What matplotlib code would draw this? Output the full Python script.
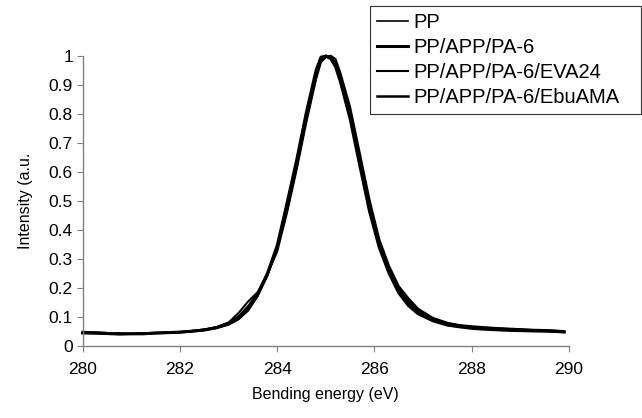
import matplotlib
matplotlib.use("Agg")
import matplotlib.pyplot as plt

plt.rcParams['font.family'] = ['Liberation Sans', 'DejaVu Sans']

energy = [280.0, 280.25, 280.5, 280.75, 281.0, 281.25, 281.5, 281.75, 282.0, 282.25,
          282.5, 282.75, 283.0, 283.2, 283.4, 283.6, 283.8, 284.0, 284.2, 284.4,
          284.6, 284.8, 284.9, 285.0, 285.1, 285.2, 285.3, 285.5, 285.7, 285.9,
          286.1, 286.3, 286.5, 286.7, 286.9, 287.2, 287.5, 287.75, 288.0, 288.25,
          288.5, 288.75, 289.0, 289.25, 289.5, 289.75, 289.9]

pp = [0.046, 0.044, 0.043, 0.041, 0.040, 0.042, 0.043, 0.044, 0.046, 0.049,
      0.053, 0.060, 0.072, 0.090, 0.120, 0.170, 0.240, 0.335, 0.475, 0.625,
      0.790, 0.935, 0.985, 1.000, 0.998, 0.975, 0.925, 0.800, 0.640, 0.480,
      0.350, 0.260, 0.190, 0.145, 0.118, 0.090, 0.074, 0.068, 0.063, 0.060,
      0.058, 0.056, 0.055, 0.053, 0.052, 0.050, 0.048]

pp_app_pa6 = [0.044, 0.043, 0.042, 0.040, 0.041, 0.041, 0.044, 0.045, 0.047, 0.050,
              0.054, 0.062, 0.075, 0.093, 0.125, 0.178, 0.250, 0.345, 0.490, 0.640,
              0.805, 0.950, 0.995, 0.998, 0.990, 0.962, 0.910, 0.782, 0.620, 0.462,
              0.338, 0.250, 0.182, 0.138, 0.110, 0.086, 0.071, 0.065, 0.060, 0.057,
              0.055, 0.053, 0.052, 0.051, 0.050, 0.049, 0.047]

pp_eva24 = [0.048, 0.046, 0.044, 0.042, 0.041, 0.043, 0.044, 0.046, 0.047, 0.051,
            0.056, 0.064, 0.080, 0.112, 0.152, 0.185, 0.248, 0.325, 0.458, 0.608,
            0.772, 0.920, 0.978, 0.995, 1.000, 0.988, 0.940, 0.822, 0.662, 0.502,
            0.366, 0.275, 0.205, 0.163, 0.127, 0.096, 0.079, 0.071, 0.067, 0.064,
            0.061, 0.059, 0.057, 0.055, 0.054, 0.052, 0.050]

pp_ebuama = [0.045, 0.045, 0.043, 0.042, 0.041, 0.042, 0.043, 0.045, 0.046, 0.050,
             0.055, 0.063, 0.078, 0.100, 0.135, 0.180, 0.246, 0.338, 0.470, 0.620,
             0.785, 0.930, 0.990, 1.000, 0.995, 0.975, 0.922, 0.806, 0.646, 0.486,
             0.356, 0.264, 0.196, 0.152, 0.120, 0.092, 0.076, 0.069, 0.064, 0.061,
             0.059, 0.057, 0.055, 0.053, 0.052, 0.050, 0.048]

labels = ["PP", "PP/APP/PA-6", "PP/APP/PA-6/EVA24", "PP/APP/PA-6/EbuAMA"]
xticks = [280, 282, 284, 286, 288, 290]
yticks = [0, 0.1, 0.2, 0.3, 0.4, 0.5, 0.6, 0.7, 0.8, 0.9, 1.0]
ytick_labels = ["0", "0.1", "0.2", "0.3", "0.4", "0.5", "0.6", "0.7", "0.8", "0.9", "1"]

W, H = 642, 418
fig = plt.figure(figsize=(W / 100, H / 100), dpi=100)
ax = fig.add_axes([82.7 / W, 72.3 / H, (569 - 82.7) / W, 290 / H])

series = [pp, pp_app_pa6, pp_eva24, pp_ebuama]
widths = [1.2, 2.2, 1.5, 1.8]
handles = []
for ys, lw, lab in zip(series, widths, labels):
    h, = ax.plot(energy, ys, color='black', lw=lw, label=lab, clip_on=False)
    handles.append(h)

ax.set_xlim(280, 290)
ax.set_ylim(0, 1.0)
ax.set_xticks(xticks)
ax.set_xticklabels([str(t) for t in xticks])
ax.set_yticks(yticks)
ax.set_yticklabels(ytick_labels)
for s in ['top', 'right']:
    ax.spines[s].set_visible(False)
for s in ['left', 'bottom']:
    ax.spines[s].set_color('#808080')
    ax.spines[s].set_linewidth(1.0)
ax.tick_params(axis='both', direction='out', length=4, color='#808080',
               labelsize=12.5, labelcolor='black')
ax.tick_params(axis='x', pad=8)
ax.tick_params(axis='y', pad=3)

ax.set_xlabel("Bending energy (eV)", fontsize=11.5, labelpad=7)
ax.set_ylabel("Intensity (a.u.", fontsize=11.5, labelpad=11)

leg = fig.legend(handles=handles, labels=labels, loc='upper left',
                 bbox_to_anchor=(370 / W, 0, (641 - 370) / W, 1 - 6 / H),
                 mode='expand', fontsize=14.5,
                 frameon=True, fancybox=False, shadow=False,
                 handlelength=1.55, handletextpad=0.25, labelspacing=0.3,
                 borderpad=0.35, borderaxespad=0)
leg.get_frame().set_edgecolor('black')
leg.get_frame().set_linewidth(0.8)

fig.savefig("out.png", dpi=100)
